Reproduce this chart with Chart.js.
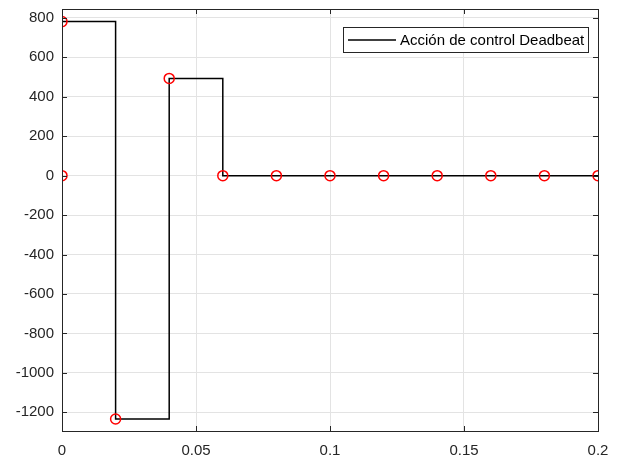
<!DOCTYPE html>
<html>
<head>
<meta charset="utf-8">
<script src="https://cdn.jsdelivr.net/npm/chart.js@4/dist/chart.umd.min.js"></script>
<style>
  html, body { margin: 0; padding: 0; background: #fff; }
  #wrap { width: 620px; height: 456px; }
</style>
</head>
<body>
<div id="wrap"><canvas id="chart" width="620" height="456"></canvas></div>
<script>
const seriesLabel = 'Acción de control Deadbeat';
const timeValues = [0, 0, 0.02, 0.04, 0.06, 0.08, 0.10, 0.12, 0.14, 0.16, 0.18, 0.20];
const controlValues = [0, 781, -1234, 493, 0, 0, 0, 0, 0, 0, 0, 0];
const xTicks = [0, 0.05, 0.1, 0.15, 0.2];
const yTicks = [-1200, -1000, -800, -600, -400, -200, 0, 200, 400, 600, 800];

const AXIS = '#262626';
const GRID = '#e3e3e3';
const FONT = { family: '"Liberation Sans", Arial, sans-serif', size: 15 };

// MATLAB-style box with inward ticks on all four sides, plus legend inside
const boxPlugin = {
  id: 'matlabBox',
  afterDatasetsDraw(chart) {
    const { ctx, chartArea: a, scales } = chart;
    ctx.save();
    ctx.strokeStyle = AXIS;
    ctx.lineWidth = 1;
    ctx.strokeRect(Math.round(a.left) + 0.5, Math.round(a.top) + 0.5,
      Math.round(a.right - a.left), Math.round(a.bottom - a.top));
    const len = 5;
    ctx.beginPath();
    xTicks.forEach(v => {
      const x = Math.round(scales.x.getPixelForValue(v)) + 0.5;
      ctx.moveTo(x, a.bottom); ctx.lineTo(x, a.bottom - len);
      ctx.moveTo(x, a.top); ctx.lineTo(x, a.top + len);
    });
    yTicks.forEach(v => {
      const y = Math.round(scales.y.getPixelForValue(v)) + 0.5;
      ctx.moveTo(a.left, y); ctx.lineTo(a.left + len, y);
      ctx.moveTo(a.right, y); ctx.lineTo(a.right - len, y);
    });
    ctx.stroke();

    // legend
    const lx = 343, ly = 27, lw = 245, lh = 25;
    ctx.fillStyle = '#fff';
    ctx.fillRect(lx, ly, lw, lh);
    ctx.strokeStyle = AXIS;
    ctx.strokeRect(lx + 0.5, ly + 0.5, lw, lh);
    ctx.strokeStyle = '#000';
    ctx.lineWidth = 1.5;
    ctx.beginPath();
    ctx.moveTo(348, ly + lh / 2 + 0.5);
    ctx.lineTo(396, ly + lh / 2 + 0.5);
    ctx.stroke();
    ctx.fillStyle = '#000';
    ctx.font = `${FONT.size}px ${FONT.family}`;
    ctx.textBaseline = 'middle';
    ctx.fillText(seriesLabel, 400, ly + lh / 2 + 1);
    ctx.restore();
  }
};

new Chart(document.getElementById('chart'), {
  type: 'line',
  data: {
    datasets: [{
      label: seriesLabel,
      data: timeValues.map((t, i) => ({ x: t, y: controlValues[i] })),
      stepped: 'before',
      borderColor: '#000',
      borderWidth: 1.5,
      pointRadius: 5,
      pointBorderWidth: 1.5,
      pointBorderColor: '#ff0000',
      pointBackgroundColor: 'rgba(0,0,0,0)',
      fill: false
    }]
  },
  options: {
    responsive: false,
    animation: false,
    layout: { padding: { left: 0, right: 22, top: 9, bottom: 0 } },
    plugins: { legend: { display: false }, tooltip: { enabled: false } },
    scales: {
      x: {
        type: 'linear', min: 0, max: 0.2,
        afterBuildTicks: s => { s.ticks = xTicks.map(v => ({ value: v })); },
        afterFit: s => { s.height = 25; s.paddingLeft = 0; s.paddingRight = 0; },
        grid: { color: GRID, drawTicks: false },
        border: { display: false },
        ticks: { color: AXIS, font: FONT, padding: 11, maxRotation: 0, callback: v => String(v) }
      },
      y: {
        type: 'linear', min: -1295, max: 845,
        afterBuildTicks: s => { s.ticks = yTicks.map(v => ({ value: v })); },
        afterFit: s => { s.width = 62; s.paddingTop = 0; s.paddingBottom = 0; },
        grid: { color: GRID, drawTicks: false },
        border: { display: false },
        ticks: { color: AXIS, font: FONT, padding: 8, callback: v => String(v) }
      }
    }
  },
  plugins: [boxPlugin]
});
</script>
</body>
</html>
